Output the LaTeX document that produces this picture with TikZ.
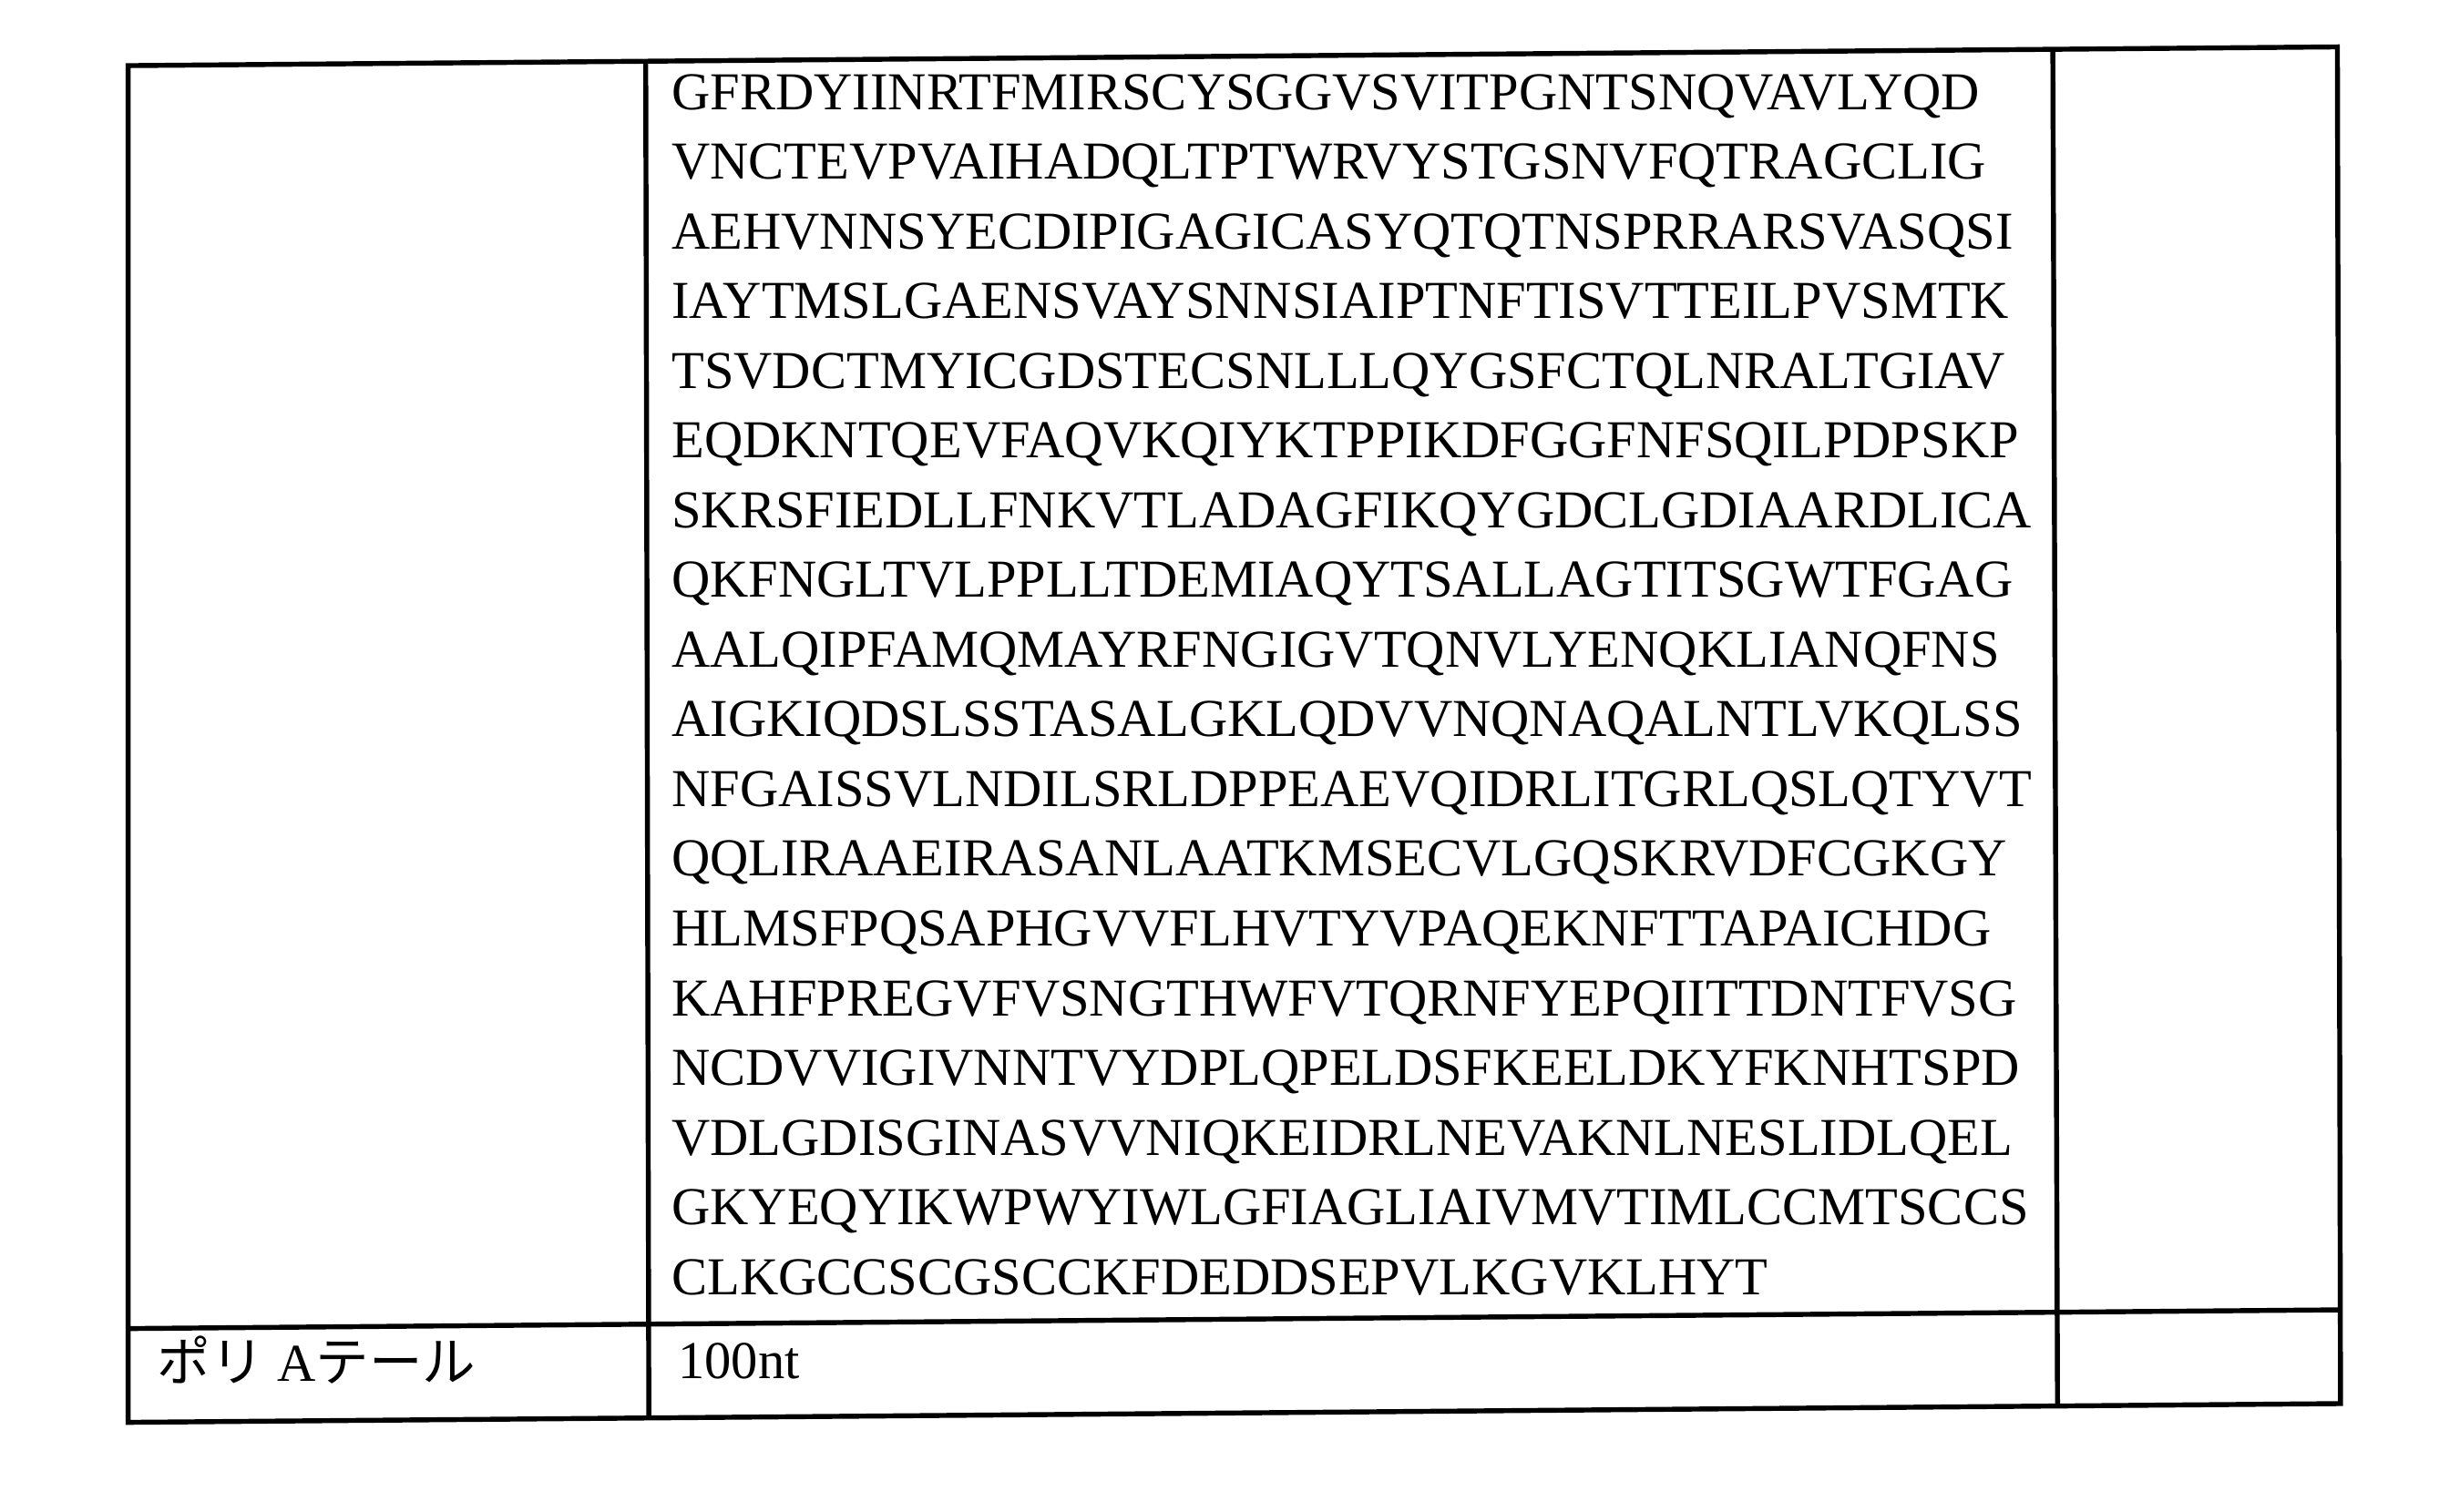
\documentclass[tikz,border=0pt]{standalone}
\usepackage{fontspec}
\setmainfont{Liberation Serif}
\newfontfamily\cjk{Noto Sans CJK JP}
\begin{document}
\begin{tikzpicture}[x=0.01cm,y=-0.01cm,
  rule/.style={line width=0.9pt},
  seq/.style={anchor=base west,inner sep=0,font=\fontsize{9.7}{12}\selectfont}]
\useasboundingbox (0,0) rectangle (1560,967);
\draw[rule] (82,42) -- (1495,30) -- (1497,898) -- (82,910) -- cycle;
\draw[rule] (413,40) -- (415,906);
\draw[rule] (1313,32) -- (1316,900);
\draw[rule] (82,850) -- (1497,838);
\foreach \t [count=\i from 0] in {
GFRDYIINRTFMIRSCYSGGVSVITPGNTSNQVAVLYQD,
VNCTEVPVAIHADQLTPTWRVYSTGSNVFQTRAGCLIG,
AEHVNNSYECDIPIGAGICASYQTQTNSPRRARSVASQSI,
IAYTMSLGAENSVAYSNNSIAIPTNFTISVTTEILPVSMTK,
TSVDCTMYICGDSTECSNLLLQYGSFCTQLNRALTGIAV,
EQDKNTQEVFAQVKQIYKTPPIKDFGGFNFSQILPDPSKP,
SKRSFIEDLLFNKVTLADAGFIKQYGDCLGDIAARDLICA,
QKFNGLTVLPPLLTDEMIAQYTSALLAGTITSGWTFGAG,
AALQIPFAMQMAYRFNGIGVTQNVLYENQKLIANQFNS,
AIGKIQDSLSSTASALGKLQDVVNQNAQALNTLVKQLSS,
NFGAISSVLNDILSRLDPPEAEVQIDRLITGRLQSLQTYVT,
QQLIRAAEIRASANLAATKMSECVLGQSKRVDFCGKGY,
HLMSFPQSAPHGVVFLHVTYVPAQEKNFTTAPAICHDG,
KAHFPREGVFVSNGTHWFVTQRNFYEPQIITTDNTFVSG,
NCDVVIGIVNNTVYDPLQPELDSFKEELDKYFKNHTSPD,
VDLGDISGINASVVNIQKEIDRLNEVAKNLNESLIDLQEL,
GKYEQYIKWPWYIWLGFIAGLIAIVMVTIMLCCMTSCCS,
CLKGCCSCGSCCKFDEDDSEPVLKGVKLHYT}
  \node[seq] (l\i) at (429,{70+44.6*\i}) {\t};
\node[seq] (pa) at (100,884) {{\cjk ポリ} A{\cjk テール}};
\node[seq] (nt) at (433,882) {100nt};
\end{tikzpicture}
\end{document}
